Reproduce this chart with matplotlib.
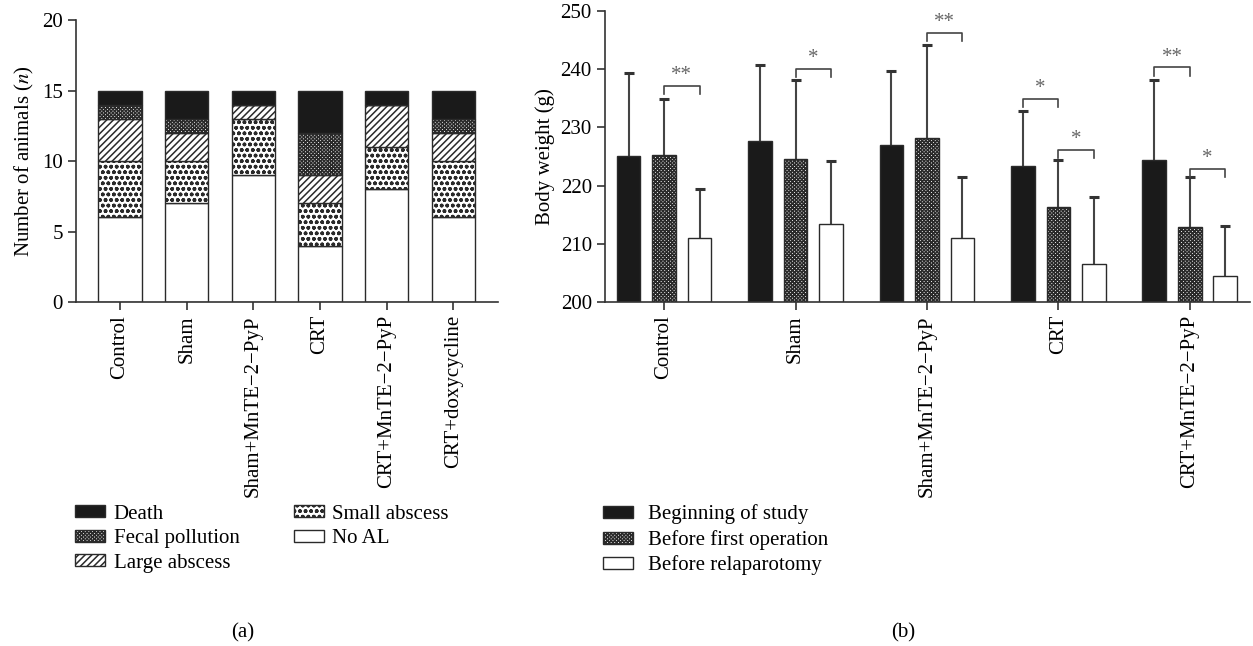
import numpy as np
import matplotlib
matplotlib.use("Agg")
import matplotlib.pyplot as plt
from matplotlib.patches import Patch

plt.rcParams.update({
    "font.family": "Liberation Serif",
    "font.size": 15,
    "mathtext.fontset": "stix",
    "axes.edgecolor": "#333333",
    "axes.linewidth": 1.2,
    "xtick.color": "#333333",
    "ytick.color": "#333333",
    "xtick.labelcolor": "black",
    "ytick.labelcolor": "black",
    "xtick.major.size": 6,
    "ytick.major.size": 6,
    "xtick.major.width": 1.2,
    "ytick.major.width": 1.2,
    "hatch.linewidth": 1.1,
})

# ---- panel (a): outcome per group (stacked counts) ----
groups_a = ["Control", "Sham", "Sham+MnTE\u22122\u2212PyP", "CRT",
            "CRT+MnTE\u22122\u2212PyP", "CRT+doxycycline"]
no_al = [6, 7, 9, 4, 8, 6]
small_abscess = [4, 3, 4, 3, 3, 4]
large_abscess = [3, 2, 1, 2, 3, 2]
fecal = [1, 1, 0, 3, 0, 1]
death = [1, 2, 1, 3, 1, 2]

# ---- panel (b): body weight (mean, SD) ----
groups_b = ["Control", "Sham", "Sham+MnTE\u22122\u2212PyP", "CRT",
            "CRT+MnTE\u22122\u2212PyP"]
w_start = [225.0, 227.7, 226.9, 223.3, 224.4]
w_start_sd = [14.4, 13.0, 12.8, 9.6, 13.8]
w_first = [225.3, 224.6, 228.2, 216.4, 212.9]
w_first_sd = [9.5, 13.5, 15.9, 8.0, 8.5]
w_relap = [211.0, 213.4, 211.0, 206.5, 204.4]
w_relap_sd = [8.5, 10.9, 10.4, 11.5, 8.7]

# significance brackets: (group, left series, right series, height, label)
sig = [
    (0, 1, 2, 237.1, "**"),
    (1, 1, 2, 240.1, "*"),
    (2, 1, 2, 246.3, "**"),
    (3, 0, 1, 234.9, "*"),
    (3, 1, 2, 226.2, "*"),
    (4, 0, 1, 240.3, "**"),
    (4, 1, 2, 222.9, "*"),
]

fig = plt.figure(figsize=(12.53, 6.46), dpi=100)
ax1 = fig.add_axes([0.0607, 0.5325, 0.3368, 0.4365])
ax2 = fig.add_axes([0.4828, 0.5325, 0.5150, 0.4505])

black = "#1a1a1a"
edge = "#2a2a2a"
checker = "xxxxxxxxx"
dots = "ooo"

# stacked bars
x = np.arange(len(groups_a))
layers = [
    (no_al, "white", "", "No AL"),
    (small_abscess, "white", dots, "Small abscess"),
    (large_abscess, "white", "/////", "Large abscess"),
    (fecal, "white", checker, "Fecal pollution"),
    (death, black, "", "Death"),
]
bottom = np.zeros(len(groups_a))
handles_a = {}
for vals, fc, hatch, name in layers:
    ax1.bar(x, vals, 0.65, bottom=bottom, color=fc, edgecolor=edge,
            hatch=hatch, linewidth=1.0)
    bottom = bottom + np.array(vals)
    handles_a[name] = Patch(facecolor=fc, edgecolor=edge, hatch=hatch, linewidth=1.0)

ax1.set_xlim(-0.66, 5.67)
ax1.set_ylim(0, 20)
ax1.set_yticks([0, 5, 10, 15, 20])
ax1.set_xticks(x)
ax1.set_xticklabels(groups_a, rotation=90)
ax1.set_ylabel("Number of animals ($\\mathit{n}$)")
ax1.spines[["top", "right"]].set_visible(False)

# grouped bars with SD (upper whisker only)
xb = np.arange(len(groups_b))
off = 0.27
bw = 0.18
cap = 0.038
series = [
    (w_start, w_start_sd, black, "", "Beginning of study"),
    (w_first, w_first_sd, "white", checker, "Before first operation"),
    (w_relap, w_relap_sd, "white", "", "Before relaparotomy"),
]
handles_b = []
for i, (m, sd, fc, hatch, name) in enumerate(series):
    pos = xb + (i - 1) * off
    m = np.array(m)
    top = m + np.array(sd)
    ax2.vlines(pos, m, top, color="#444444", lw=1.5, zorder=1)
    ax2.hlines(top, pos - cap, pos + cap, color="#333333", lw=2.2, zorder=1)
    ax2.bar(pos, m - 200, bw, bottom=200, color=fc, edgecolor=edge,
            hatch=hatch, linewidth=1.0, zorder=2)
    handles_b.append(Patch(facecolor=fc, edgecolor=edge, hatch=hatch, linewidth=1.0,
                           label=name))

for g, a, b, yy, lab in sig:
    xa = g + (a - 1) * off
    xc = g + (b - 1) * off
    ax2.plot([xa, xa, xc, xc], [yy - 1.4, yy, yy, yy - 1.4], color="#444444", lw=1.2)
    ax2.text((xa + xc) / 2, yy + 0.1, lab, ha="center", va="bottom",
             fontsize=15, color="#666666")

ax2.set_xlim(-0.45, 4.46)
ax2.set_ylim(200, 250)
ax2.set_yticks(np.arange(200, 251, 10))
ax2.set_xticks(xb)
ax2.set_xticklabels(groups_b, rotation=90)
ax2.set_ylabel("Body weight (g)")
ax2.spines[["top", "right"]].set_visible(False)

order = ["Death", "Fecal pollution", "Large abscess", "Small abscess", "No AL"]
fig.legend([handles_a[k] for k in order], order, loc="upper left",
           bbox_to_anchor=(0.06, 0.219), ncol=2, frameon=False,
           handlelength=1.45, handleheight=0.5, handletextpad=0.4,
           labelspacing=0.27, columnspacing=2.6, borderpad=0, borderaxespad=0)
fig.legend(handles=handles_b, loc="upper left", bbox_to_anchor=(0.481, 0.219),
           frameon=False, handlelength=1.45, handleheight=0.5, handletextpad=0.72,
           labelspacing=0.27, borderpad=0, borderaxespad=0)

fig.text(243 / 1253, 1 - 633 / 646, "(a)", ha="center", va="center")
fig.text(903 / 1253, 1 - 633 / 646, "(b)", ha="center", va="center")

fig.savefig("out.png", dpi=100)
